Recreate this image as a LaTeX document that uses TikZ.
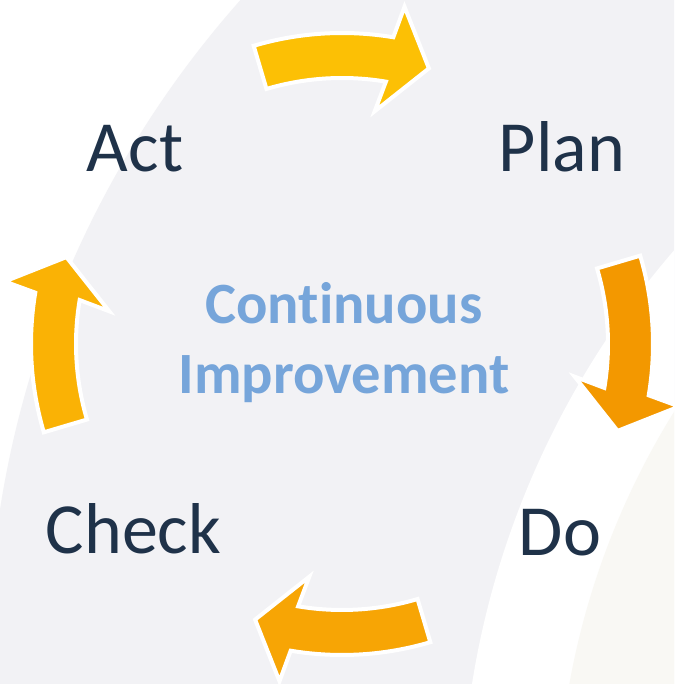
\documentclass[tikz,border=0pt]{standalone}
\usepackage{fontspec}
\setmainfont{Carlito}[Ligatures=NoCommon]

\definecolor{bggrey}{HTML}{F2F2F5}
\definecolor{bgcream}{HTML}{F9F8F4}
\definecolor{stagenavy}{HTML}{1F3249}
\definecolor{improveblue}{HTML}{76A5DA}
\definecolor{arrowtop}{HTML}{FCC005}
\definecolor{arrowright}{HTML}{F39800}
\definecolor{arrowbottom}{HTML}{F7A505}
\definecolor{arrowleft}{HTML}{FAB205}

\tikzset{
	stage/.style={text=stagenavy, font=\fontsize{72}{72}\selectfont, anchor=base, inner sep=0pt},
	improve/.style={text=improveblue, font=\fontsize{58.5}{58.5}\selectfont\bfseries, anchor=base, inner sep=0pt},
	cyclearrow/.style={draw=white, line width=4pt, line join=miter}
}

\begin{document}
\begin{tikzpicture}[x=1pt, y=1pt]
	\useasboundingbox (0, 0) rectangle (674, 684);
	\fill[white] (0, 0) rectangle (674, 684);

	\begin{scope}
		\clip (0, 0) rectangle (674, 684);
		\fill[bggrey] (990, 19) circle (1002);
		\fill[white] (1337, -139) circle (876);
		\fill[bgcream] (1337, -139) circle (780);
	\end{scope}

	\coordinate (hub) at (342, 340);

	\foreach \turn/\shade in {0/arrowtop, -90/arrowright, -180/arrowbottom, 90/arrowleft}
	{
		\begin{scope}[shift={(hub)}, rotate=\turn]
			\filldraw[cyclearrow, fill=\shade] (106.5:266) -- (106.5:311)
				arc[start angle=106.5, end angle=80.5, radius=311]
				-- (79.5:343) -- (72.5:289) -- (82:235) -- (80.5:266)
				arc[start angle=80.5, end angle=106.5, radius=266] -- cycle;
		\end{scope}
	}

	\node[stage] (act) at (135, 512) {Act};
	\node[stage] (plan) at (562, 512) {Plan};
	\node[stage] (check) at (133.5, 130.5) {Check};
	\node[stage] (do) at (560, 128) {Do};

	\node[improve] (continuous) at (344, 360) {Continuous};
	\node[improve] (improvement) at (344, 290) {Improvement};

\end{tikzpicture}
\end{document}
